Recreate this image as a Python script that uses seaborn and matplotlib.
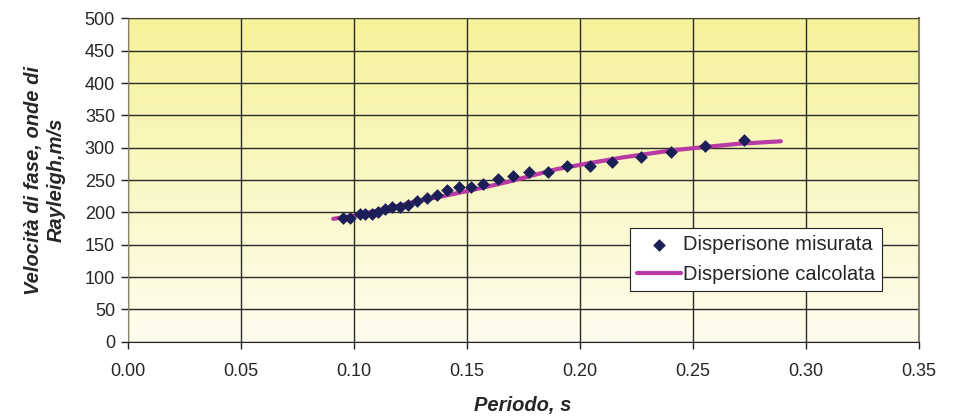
import numpy as np
import pandas as pd
import matplotlib
matplotlib.use("Agg")
import matplotlib.pyplot as plt
from matplotlib.colors import LinearSegmentedColormap
import seaborn as sns

# measured dispersion (period s, phase velocity m/s)
periodo_mis = [0.0955, 0.0985, 0.1029, 0.1051, 0.1080, 0.1109, 0.1139, 0.1168,
               0.1205, 0.1242, 0.1281, 0.1323, 0.1367, 0.1413, 0.1466, 0.1521,
               0.1572, 0.1638, 0.1704, 0.1775, 0.1858, 0.1946, 0.2045, 0.2145,
               0.2270, 0.2406, 0.2553, 0.2728]
vel_mis = [192, 191, 198, 197, 197, 200, 206, 209, 209, 212, 217, 222, 227, 234,
           240, 239, 244, 251, 256, 262, 263, 271, 271, 278, 285, 294, 302, 312]

# computed dispersion curve
periodo_calc = [0.091, 0.102, 0.117, 0.129, 0.138, 0.153, 0.168, 0.190, 0.204,
                0.219, 0.241, 0.255, 0.270, 0.289]
vel_calc = [190, 196, 208, 218, 224, 235, 247, 267, 276, 285, 296, 301, 306, 310]

xticks = [0.0, 0.05, 0.10, 0.15, 0.20, 0.25, 0.30, 0.35]
yticks = list(range(0, 501, 50))

sns.set_style("white")
plt.rcParams['font.family'] = ['Liberation Sans', 'DejaVu Sans']

df_mis = pd.DataFrame({"periodo": periodo_mis, "vel": vel_mis})
df_calc = pd.DataFrame({"periodo": periodo_calc, "vel": vel_calc})

fig = plt.figure(figsize=(9.59, 4.19), dpi=100)
ax = fig.add_axes([0.133, 0.1845, 0.825, 0.7715])

# yellow gradient background
cmap = LinearSegmentedColormap.from_list("bg", ["#FEFDEF", "#F6F29A"])
grad = np.linspace(0, 1, 256).reshape(-1, 1)
ax.imshow(grad, extent=[0, 0.35, 0, 500], origin="lower", aspect="auto",
          cmap=cmap, zorder=0)

sns.lineplot(data=df_calc, x="periodo", y="vel", ax=ax, color="#B83AA4",
             linewidth=3, label="Dispersione calcolata", zorder=3, sort=False)
sns.scatterplot(data=df_mis, x="periodo", y="vel", ax=ax, marker="D",
                color="#1B1E57", s=42, edgecolor="#1B1E57", linewidth=0,
                label="Disperisone misurata", zorder=4)

ax.set_xlim(0, 0.35)
ax.set_ylim(0, 500)
ax.set_xticks(xticks)
ax.set_yticks(yticks)
ax.set_xticklabels([f"{t:.2f}" for t in xticks], fontsize=13)
ax.set_yticklabels([str(t) for t in yticks], fontsize=13)
ax.grid(True, color="#2A2A2A", linewidth=1)
for l in ax.get_xgridlines() + ax.get_ygridlines():
    l.set_zorder(1)
ax.tick_params(axis="x", direction="out", length=5, width=1, color="#222222",
               bottom=True, pad=10)
ax.tick_params(axis="y", direction="out", length=5, width=1, color="#222222",
               left=True, pad=4)

ax.spines["left"].set_color("#8A8466")
ax.spines["top"].set_color("#4A4433")
ax.spines["right"].set_color("#8A8466")
ax.spines["right"].set_linewidth(1.5)
ax.spines["bottom"].set_color("#222222")

ax.set_xlabel("Periodo, s", fontsize=14.5, fontweight="bold", fontstyle="italic",
              labelpad=12)
ax.set_ylabel("Velocità di fase, onde di\nRayleigh,m/s", fontsize=14.5,
              fontweight="bold", fontstyle="italic", labelpad=14,
              linespacing=1.2)

# legend: markers first, then the curve
handles, labels = ax.get_legend_handles_labels()
order = [1, 0]
leg = ax.legend([handles[i] for i in order], [labels[i] for i in order],
                loc="upper left", bbox_to_anchor=(0.635, 0.352), fontsize=14.5,
                frameon=True, fancybox=False, framealpha=1, edgecolor="#222222",
                borderpad=0.35, handlelength=2.2, handletextpad=0.1,
                labelspacing=0.55, borderaxespad=0)
leg.get_frame().set_linewidth(0.8)
leg.set_zorder(5)

fig.savefig("out.png", dpi=100)
